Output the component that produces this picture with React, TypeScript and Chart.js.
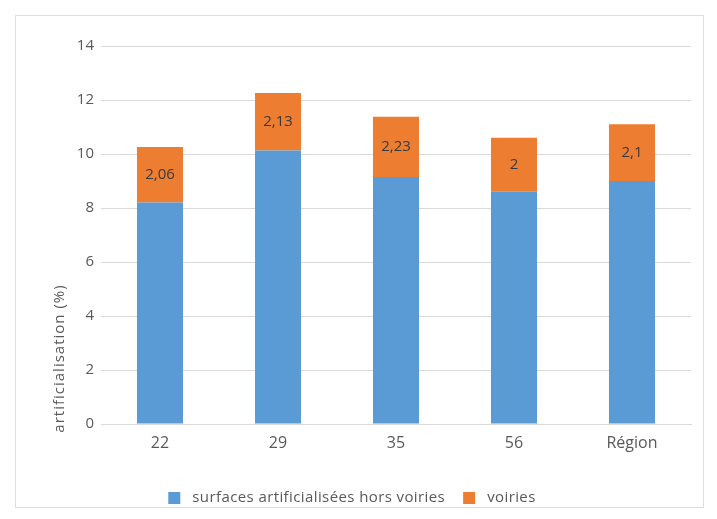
import React, { useEffect, useRef } from "react";
import { Chart, registerables } from "chart.js";

Chart.register(...registerables);

const categories = ["22", "29", "35", "56", "Région"];
const surfacesHorsVoiries = [8.2, 10.13, 9.15, 8.6, 9.0];
const voiries = [2.06, 2.13, 2.23, 2, 2.1];
const voiriesLabels = ["2,06", "2,13", "2,23", "2", "2,1"];
const yTicks = [0, 2, 4, 6, 8, 10, 12, 14];
const seriesNames = ["surfaces artificialisées hors voiries", "voiries"];
const yTitle = "artificialisation (%)";

const BLUE = "#5B9BD5";
const ORANGE = "#ED7D31";
const TEXT = "#595959";
const FONT = "'Open Sans', Lato, sans-serif";

export default function App() {
  const ref = useRef<HTMLCanvasElement | null>(null);
  useEffect(() => {
    if (!ref.current) return;
    const decor = {
      id: "decor",
      beforeDraw(chart: any) {
        const ctx = chart.ctx;
        ctx.save();
        ctx.fillStyle = "#ffffff";
        ctx.fillRect(0, 0, chart.width, chart.height);
        ctx.strokeStyle = "#dedede";
        ctx.lineWidth = 1;
        ctx.strokeRect(15.5, 15.5, 688, 492);
        ctx.restore();
      },
      afterDraw(chart: any) {
        const ctx = chart.ctx;
        ctx.save();
        // y title
        ctx.fillStyle = TEXT;
        ctx.font = `15px ${FONT}`;
        ctx.textAlign = "center";
        ctx.textBaseline = "middle";
        ctx.translate(60, 359);
        ctx.rotate(-Math.PI / 2);
        const tw = ctx.measureText(yTitle).width;
        const target = 152;
        const extra = Math.min(1, Math.max(0, (target - tw) / (yTitle.length - 1)));
        (ctx as any).letterSpacing = `${extra}px`;
        ctx.fillText(yTitle, extra / 2, 0);
        ctx.restore();

        // data labels on orange segments
        const meta = chart.getDatasetMeta(1);
        ctx.save();
        ctx.fillStyle = "#3a3a3a";
        ctx.font = `15px ${FONT}`;
        ctx.textAlign = "center";
        ctx.textBaseline = "middle";
        meta.data.forEach((bar: any, i: number) => {
          const y = (bar.y + bar.base) / 2;
          ctx.fillText(voiriesLabels[i], bar.x, y);
        });
        ctx.restore();

        // legend
        ctx.save();
        ctx.font = `15px ${FONT}`;
        (ctx as any).letterSpacing = "0.4px";
        ctx.textBaseline = "middle";
        ctx.textAlign = "left";
        const box = 12;
        const gapBoxText = 12;
        const gapItems = 18;
        const w0 = ctx.measureText(seriesNames[0]).width;
        const w1 = ctx.measureText(seriesNames[1]).width;
        const total = box + gapBoxText + w0 + gapItems + box + gapBoxText + w1;
        let x = 352 - total / 2;
        const y = 498;
        ctx.fillStyle = BLUE;
        ctx.fillRect(x, y - box / 2, box, box);
        x += box + gapBoxText;
        ctx.fillStyle = TEXT;
        ctx.fillText(seriesNames[0], x, y);
        x += w0 + gapItems;
        ctx.fillStyle = ORANGE;
        ctx.fillRect(x, y - box / 2, box, box);
        x += box + gapBoxText;
        ctx.fillStyle = TEXT;
        ctx.fillText(seriesNames[1], x, y);
        ctx.restore();
      },
    };
    const chart = new Chart(ref.current, {
      type: "bar",
      data: {
        labels: categories,
        datasets: [
          { label: seriesNames[0], data: surfacesHorsVoiries, backgroundColor: BLUE, categoryPercentage: 1, barPercentage: 0.39 },
          { label: seriesNames[1], data: voiries, backgroundColor: ORANGE, categoryPercentage: 1, barPercentage: 0.39 },
        ],
      },
      options: {
        animation: false,
        responsive: false,
        maintainAspectRatio: false,
        layout: { padding: { left: 0, right: 26, top: 46, bottom: 0 } },
        plugins: { legend: { display: false }, tooltip: { enabled: false } },
        scales: {
          x: {
            stacked: true,
            grid: { display: false },
            border: { display: true, color: "#d9d9d9" },
            ticks: { color: TEXT, font: { family: FONT, size: 16 }, padding: 2 },
            afterFit: (s: any) => { s.height = 95; },
          },
          y: {
            stacked: true,
            min: 0,
            max: 14,
            afterBuildTicks: (s: any) => { s.ticks = yTicks.map((v) => ({ value: v })); },
            grid: { color: "#d9d9d9", drawTicks: false },
            border: { display: false },
            ticks: { color: TEXT, font: { family: FONT, size: 15 }, padding: 7 },
            afterFit: (s: any) => { s.width = 101; },
          },
        },
      },
      plugins: [decor],
    });
    return () => chart.destroy();
  }, []);
  return (
    <div style={{ position: "absolute", left: 0, top: 0, width: 717, height: 519 }}>
      <canvas ref={ref} width={717} height={519} style={{ width: 717, height: 519 }} />
    </div>
  );
}
